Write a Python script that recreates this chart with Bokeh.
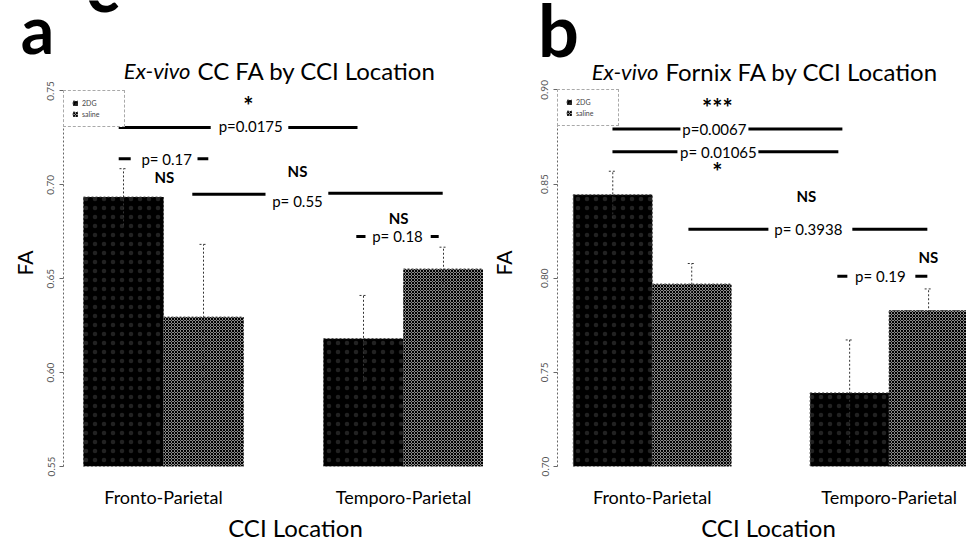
import math

from bokeh.core.properties import value
from bokeh.embed import file_html
from bokeh.layouts import column, row
from bokeh.models import ColumnDataSource, FixedTicker, Legend, LegendItem, Range1d
from bokeh.plotting import figure
from bokeh.resources import INLINE

# ---- data -------------------------------------------------------------
locations = ["Fronto-Parietal", "Temporo-Parietal"]
groups = ["2DG", "saline"]

cc_2dg = [0.6935, 0.6181]
cc_saline = [0.6296, 0.6552]
cc_2dg_err = [0.0151, 0.0230]
cc_saline_err = [0.0387, 0.0116]

fornix_2dg = [0.8443, 0.7391]
fornix_saline = [0.7969, 0.7828]
fornix_2dg_err = [0.0125, 0.0281]
fornix_saline_err = [0.0109, 0.0115]

cc_ticks = [0.55, 0.60, 0.65, 0.70, 0.75]
fornix_ticks = [0.70, 0.75, 0.80, 0.85, 0.90]

FONT = "Lato"
PANEL_W = 483
TOTAL_W = 2 * PANEL_W
HEADER_H = 59
FOOTER_H = 34
MAIN_H = 544 - HEADER_H - FOOTER_H


def add_text(p, x, y, text, size, style="normal", align="center", baseline="middle"):
    p.text(x=[x], y=[y], text=[text], text_font=value(FONT), text_font_size=size,
           text_font_style=style, text_align=align, text_baseline=baseline,
           text_color="black")


def add_rule(p, x0, x1, y, width=3):
    p.segment(x0=[x0], y0=[y], x1=[x1], y1=[y], line_color="black", line_width=width)


def strip_figure(height):
    """Full-width strip in pixel coordinates (y down) for panel letters and captions."""
    p = figure(width=TOTAL_W, height=height, x_range=Range1d(0, TOTAL_W),
               y_range=Range1d(height, 0), output_backend="svg", toolbar_location=None,
               x_axis_location=None, y_axis_location=None, min_border=0)
    p.outline_line_color = None
    p.xgrid.visible = False
    p.ygrid.visible = False
    return p


def make_panel(x_range, y_range, ticks, border_left, border_bottom, label_standoff,
               legend_loc, vals_2dg, vals_sal, err_2dg, err_sal):
    p = figure(width=PANEL_W, height=MAIN_H, x_range=Range1d(*x_range),
               y_range=Range1d(*y_range), output_backend="svg", toolbar_location=None,
               min_border_left=border_left, min_border_right=0,
               min_border_top=0, min_border_bottom=border_bottom)
    p.outline_line_color = None
    p.xgrid.visible = False
    p.ygrid.visible = False
    p.background_fill_color = "white"

    base = ticks[0]
    centers = [2 + 3 * i for i in range(len(locations))]
    x_2dg = [c - 0.5 for c in centers]
    x_sal = [c + 0.5 for c in centers]

    src_2dg = ColumnDataSource(dict(x=x_2dg, top=vals_2dg,
                                    up=[v + e for v, e in zip(vals_2dg, err_2dg)],
                                    lo=[v - e for v, e in zip(vals_2dg, err_2dg)]))
    src_sal = ColumnDataSource(dict(x=x_sal, top=vals_sal,
                                    up=[v + e for v, e in zip(vals_sal, err_sal)],
                                    lo=[v - e for v, e in zip(vals_sal, err_sal)]))

    r_2dg = p.vbar(x="x", top="top", bottom=base, width=1.0, source=src_2dg,
                   fill_color="black", line_color="#444444", line_dash="2 2", line_width=1,
                   hatch_pattern="dot", hatch_color="#222222", hatch_scale=9, hatch_weight=1)
    r_sal = p.vbar(x="x", top="top", bottom=base, width=1.0, source=src_sal,
                   fill_color="#8a8a8a", line_color="#444444", line_dash="2 2", line_width=1,
                   hatch_pattern="diagonal_cross", hatch_color="black", hatch_scale=3,
                   hatch_weight=1)

    # error bars (dotted, with short caps)
    for src in (src_2dg, src_sal):
        p.segment(x0="x", y0="lo", x1="x", y1="up", source=src, line_color="#333333",
                  line_dash="2 2", line_width=1)
        cap = ColumnDataSource(dict(x0=[x - 0.05 for x in src.data["x"]],
                                    x1=[x + 0.05 for x in src.data["x"]],
                                    y=src.data["up"]))
        p.segment(x0="x0", y0="y", x1="x1", y1="y", source=cap, line_color="#333333",
                  line_dash="2 2", line_width=1)

    # y axis, drawn only over the tick span
    p.yaxis.ticker = FixedTicker(ticks=ticks)
    p.yaxis.bounds = (ticks[0], ticks[-1])
    p.yaxis.major_label_overrides = {t: f"{t:.2f}" for t in ticks}
    p.yaxis.major_label_orientation = "vertical"
    p.yaxis.major_label_text_font = FONT
    p.yaxis.major_label_text_font_size = "10px"
    p.yaxis.major_label_text_color = "#555555"
    p.yaxis.major_label_standoff = 5
    p.yaxis.axis_line_dash = "2 2"
    p.yaxis.axis_line_color = "#666666"
    p.yaxis.major_tick_line_color = "#666666"
    p.yaxis.major_tick_out = 4
    p.yaxis.major_tick_in = 0
    p.yaxis.minor_tick_line_color = None
    p.yaxis.axis_label = "FA"
    p.yaxis.axis_label_text_font = FONT
    p.yaxis.axis_label_text_font_size = "21px"
    p.yaxis.axis_label_text_font_style = "normal"
    p.yaxis.axis_label_text_color = "black"
    p.yaxis.axis_label_standoff = label_standoff

    # x axis: category names only
    p.xaxis.ticker = FixedTicker(ticks=centers)
    p.xaxis.major_label_overrides = {c: loc for c, loc in zip(centers, locations)}
    p.xaxis.major_label_text_font = FONT
    p.xaxis.major_label_text_font_size = "18px"
    p.xaxis.major_label_text_color = "black"
    p.xaxis.major_label_standoff = 13
    p.xaxis.axis_line_color = None
    p.xaxis.major_tick_line_color = None
    p.xaxis.minor_tick_line_color = None

    legend = Legend(items=[LegendItem(label=groups[0], renderers=[r_2dg]),
                           LegendItem(label=groups[1], renderers=[r_sal])],
                    location=legend_loc, margin=0, padding=8, spacing=3,
                    glyph_width=6, glyph_height=6, label_height=8, label_width=34,
                    label_standoff=4, label_text_font=FONT, label_text_font_size="7px",
                    label_text_color="#444444", border_line_color="#555555",
                    border_line_dash="2 2", border_line_width=1,
                    background_fill_alpha=1.0)
    p.add_layout(legend)
    return p


# ---- header: panel letters (anchored at the middle of the em box) -----
header = strip_figure(HEADER_H)
add_text(header, 102, -16, "c", "70px", style="bold")
add_text(header, 37, 28, "a", "66px", style="bold")
add_text(header, 558, 28, "b", "72px", style="bold")

# ---- panel a : corpus callosum ----------------------------------------
pa = make_panel((0.75, 6.0), (0.55, 0.55 + 414 / 1910), cc_ticks, 63, 37, 8, (0, 339),
                cc_2dg, cc_saline, cc_2dg_err, cc_saline_err)

add_text(pa, 2.3375, 0.761, "Ex-vivo", "22px", style="italic", align="right")
add_text(pa, 2.425, 0.761, "CC FA by CCI Location", "24px", align="left")

add_text(pa, 3.06, 0.7420, "*", "24px", style="bold")
add_rule(pa, 1.44, 2.59, 0.7306)
add_text(pa, 3.09, 0.7311, "p=0.0175", "15px")
add_rule(pa, 3.56, 4.425, 0.7306)

add_rule(pa, 1.44, 1.59, 0.7139)
add_text(pa, 2.04, 0.7139, "p= 0.17", "15px")
add_rule(pa, 2.425, 2.56, 0.7139)
add_text(pa, 2.01, 0.7044, "NS", "15px", style="bold")

add_text(pa, 3.675, 0.7076, "NS", "15px", style="bold")
add_rule(pa, 2.36, 3.275, 0.6950)
add_text(pa, 3.675, 0.6914, "p= 0.55", "15px")
add_rule(pa, 4.06, 5.49, 0.6955)

add_text(pa, 4.94, 0.6825, "NS", "15px", style="bold")
add_rule(pa, 4.41, 4.525, 0.6725)
add_text(pa, 4.925, 0.6725, "p= 0.18", "15px")
add_rule(pa, 5.34, 5.44, 0.6725)

# ---- panel b : fornix -------------------------------------------------
pb = make_panel((0.8, 5.98), (0.70, 0.70 + 415 / 1920), fornix_ticks, 74, 36, 23, (0, 340),
                fornix_2dg, fornix_saline, fornix_2dg_err, fornix_saline_err)

add_text(pb, 2.078, 0.9099, "Ex-vivo", "22px", style="italic", align="right")
add_text(pb, 2.167, 0.9099, "Fornix FA by CCI Location", "24px", align="left")

add_text(pb, 2.825, 0.8905, "***", "24px", style="bold")
add_rule(pb, 1.496, 2.357, 0.8792)
add_text(pb, 2.787, 0.8792, "p=0.0067", "15px")
add_rule(pb, 3.218, 4.408, 0.8792)

add_rule(pb, 1.496, 2.319, 0.8672)
add_text(pb, 2.838, 0.8672, "p= 0.01065", "15px")
add_rule(pb, 3.344, 4.357, 0.8672)
add_text(pb, 2.825, 0.8566, "*", "24px", style="bold")

add_text(pb, 3.952, 0.8438, "NS", "15px", style="bold")
add_rule(pb, 2.458, 3.471, 0.8260)
add_text(pb, 3.977, 0.8260, "p= 0.3938", "15px")
add_rule(pb, 4.534, 5.484, 0.8260)

add_text(pb, 5.496, 0.8115, "NS", "15px", style="bold")
add_rule(pb, 4.344, 4.471, 0.8010)
add_text(pb, 4.889, 0.8010, "p= 0.19", "15px")
add_rule(pb, 5.332, 5.484, 0.8010)

# ---- footer: x-axis captions ------------------------------------------
footer = strip_figure(FOOTER_H)
add_text(footer, 295, 17, "CCI Location", "24px")
add_text(footer, 768, 17, "CCI Location", "24px")

layout = column(header, row(pa, pb, spacing=0), footer, spacing=0)
open("out.html", "w").write(file_html(layout, INLINE))
